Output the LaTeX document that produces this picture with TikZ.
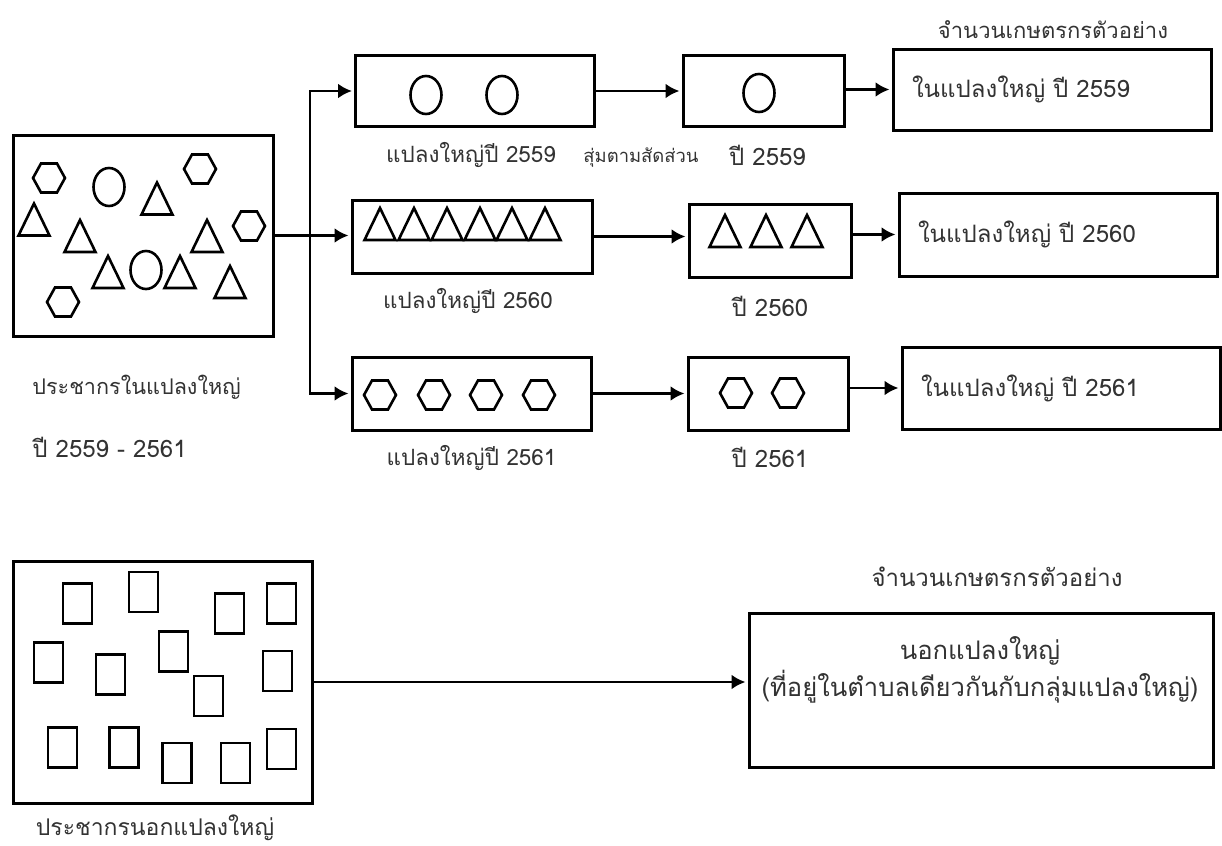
\documentclass[tikz,border=0pt]{standalone}
\usepackage{fontspec}
\setmainfont[Script=Thai]{Loma}
\usepackage{tikz}
\usetikzlibrary{arrows.meta}
\usetikzlibrary{positioning}

\begin{document}
\begin{tikzpicture}[x=0.5pt,y=-0.5pt,node distance=32pt,>={Latex[length=7pt,width=7.5pt]},
	box/.style={draw, line width=1.5pt, inner sep=0pt},
	sample box/.style={box, text width=140pt, inner xsep=9.5pt, align=left, font=\fontsize{12}{14}\selectfont, text=black!80},
	tag/.style={font=\fontsize{11.2}{14}\selectfont, text=black!80, inner sep=0pt},
	link/.style={->, line width=1.45pt, shorten >=1pt},
	glyph/.style={line width=1.3pt},
	hexa/.pic={\draw[glyph] (-16,0) -- (-8,-14.5) -- (8,-14.5) -- (16,0) -- (8,14.5) -- (-8,14.5) -- cycle;},
	tri/.pic={\draw[glyph] (-15.5,16) -- (15.5,16) -- (0,-16) -- cycle;},
	oval/.pic={\draw[glyph] (0,0) ellipse [x radius=7.75pt, y radius=9.5pt];},
	sq/.pic={\draw[glyph] (-14.5,-20) rectangle (14.5,20);}]
	\useasboundingbox (0,0) rectangle (1222,846);
	
	% Population in the large plots
	\node[box, minimum width=130pt, minimum height=100.5pt] (pop1) at (143,235.5) {};
	\pic at (49,178) {hexa};
	\pic at (109,187) {oval};
	\pic at (157,198.5) {tri};
	\pic at (200,169) {hexa};
	\pic at (34,219.5) {tri};
	\pic at (80,236) {tri};
	\pic at (249,226) {hexa};
	\pic at (207,236) {tri};
	\pic at (108,272) {tri};
	\pic at (146,270) {oval};
	\pic at (180,272) {tri};
	\pic at (230,282) {tri};
	\pic at (63,302) {hexa};
	\node[tag, anchor=west, font=\fontsize{10.8}{13}\selectfont] (pop1a) at (32,387) {ประชากรในแปลงใหญ่};
	\node[tag, anchor=west, font=\fontsize{12}{14}\selectfont] (pop1b) at (32,447) {ปี 2559 - 2561};
	
	% Plots per year
	\node[box, minimum width=119.5pt, minimum height=35.5pt] (a1) at (475,91) {};
	\node[box, minimum width=120pt, minimum height=36.5pt] (a2) at (472,236.5) {};
	\node[box, minimum width=119.5pt, minimum height=36.5pt] (a3) at (471.5,393.5) {};
	\pic at (426,95) {oval};
	\pic at (502,95) {oval};
	\pic at (380,224) {tri};
	\pic at (414,224) {tri};
	\pic at (447,224) {tri};
	\pic at (480,224) {tri};
	\pic at (512,224) {tri};
	\pic at (545,224) {tri};
	\pic at (380,395) {hexa};
	\pic at (434,395) {hexa};
	\pic at (486,395) {hexa};
	\pic at (539,395) {hexa};
	\node[tag] (la1) [below of=a1, xshift=-2pt] {แปลงใหญ่ปี 2559};
	\node[tag] (la2) [below of=a2, xshift=-2pt] {แปลงใหญ่ปี 2560};
	\node[tag] (la3) [below of=a3] {แปลงใหญ่ปี 2561};
	
	% Sampled per year
	\node[box, minimum width=80.5pt, minimum height=35.5pt] (b1) at (763.5,91) {};
	\node[box, minimum width=81pt, minimum height=36.5pt] (b2) at (770,240.5) {};
	\node[box, minimum width=80pt, minimum height=36.5pt] (b3) at (768,393.5) {};
	\pic at (759,93) {oval};
	\pic at (725,231) {tri};
	\pic at (766,231) {tri};
	\pic at (807,231) {tri};
	\pic at (736,393) {hexa};
	\pic at (788,393) {hexa};
	\node[tag, font=\fontsize{12}{14}\selectfont] (lb1) [below of=b1, xshift=2pt] {ปี 2559};
	\node[tag, font=\fontsize{12}{14}\selectfont] (lb2) [below of=b2, yshift=-1pt] {ปี 2560};
	\node[tag, font=\fontsize{12}{14}\selectfont] (lb3) [below of=b3, xshift=1pt] {ปี 2561};
	\node[tag, font=\fontsize{9.2}{11}\selectfont] (ratio) at (641,158) {สุ่มตามสัดส่วน};
	
	% Sample size
	\node[sample box, minimum height=40.5pt] (c1) at (1052,89.5) {ในแปลงใหญ่ ปี 2559};
	\node[sample box, minimum height=41.5pt] (c2) at (1058,234.5) {ในแปลงใหญ่ ปี 2560};
	\node[sample box, minimum height=41pt] (c3) at (1061,388) {ในแปลงใหญ่ ปี 2561};
	\node[tag, font=\fontsize{11}{13}\selectfont] (size1) at (1053,30) {จำนวนเกษตรกรตัวอย่าง};
	
	% Connectors
	\coordinate (fork) at (310,235.5);
	\draw[link] (pop1.east) -- (a2.west |- pop1.east);
	\draw[link] (fork) |- (a1.west);
	\draw[link] (fork) |- (a3.west);
	\draw[link] (a1.east) -- (a1.east -| b1.west);
	\draw[link] (a2.east) -- (a2.east -| b2.west);
	\draw[link] (a3.east) -- (a3.east -| b3.west);
	\draw[link] (b1.east |- c1.west) -- (c1.west);
	\draw[link] (b2.east |- c2.west) -- (c2.west);
	\draw[link] (b3.east |- c3.west) -- (c3.west);
	
	% Population outside the large plots
	\node[box, minimum width=149.5pt, minimum height=121pt] (pop2) at (162.5,682) {};
	\pic at (77.5,603.5) {sq};
	\pic at (143.5,592) {sq};
	\pic at (229.5,613.5) {sq};
	\pic at (281.5,603.5) {sq};
	\pic at (48.5,662.5) {sq};
	\pic at (110.5,674.5) {sq};
	\pic at (173.5,651.5) {sq};
	\pic at (277.5,671) {sq};
	\pic at (208.5,696) {sq};
	\pic at (62.5,747.5) {sq};
	\pic at (124,747.5) {sq};
	\pic at (177,763) {sq};
	\pic at (235.5,763) {sq};
	\pic at (281.5,749) {sq};
	\node[tag, font=\fontsize{11.5}{14}\selectfont] (pop2a) at (155,828) {ประชากรนอกแปลงใหญ่};
	
	\node[box, minimum width=232pt, minimum height=77pt] (d1) at (981,690) {};
	\node[tag, align=center, font=\fontsize{12.8}{18.5}\selectfont] (d1a) at (980,670) {นอกแปลงใหญ่\\(ที่อยู่ในตำบลเดียวกันกับกลุ่มแปลงใหญ่)};
	\node[tag, font=\fontsize{12}{14}\selectfont] (size2) at (997,577) {จำนวนเกษตรกรตัวอย่าง};
	\draw[link] (pop2.east) -- (pop2.east -| d1.west);
	
\end{tikzpicture}
\end{document}
